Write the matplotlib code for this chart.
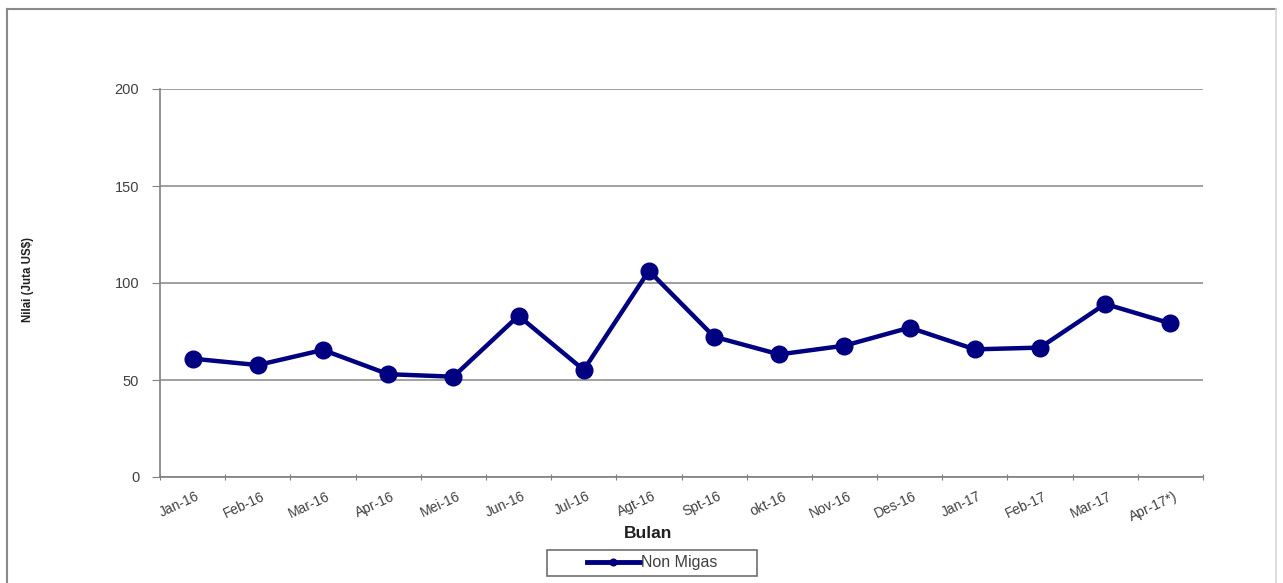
import matplotlib
matplotlib.use("Agg")
import matplotlib.pyplot as plt
import matplotlib.transforms as mtrans
from matplotlib.patches import Rectangle
from matplotlib.lines import Line2D

categories = ["Jan-16", "Feb-16", "Mar-16", "Apr-16", "Mei-16", "Jun-16", "Jul-16", "Agt-16",
              "Spt-16", "okt-16", "Nov-16", "Des-16", "Jan-17", "Feb-17", "Mar-17", "Apr-17*)"]
non_migas = [61.0, 57.7, 65.5, 53.0, 51.7, 83.1, 55.2, 106.3,
             72.3, 63.2, 67.7, 77.0, 65.8, 66.7, 89.2, 79.2]
y_ticks = [0, 50, 100, 150, 200]

plt.rcParams['font.family'] = ['Liberation Sans', 'DejaVu Sans']

W, H = 1283, 583
fig = plt.figure(figsize=(W / 100, H / 100), dpi=100)

def fx(px):
    return px / W

def fy(py):
    return 1 - py / H

# outer frame
fig.add_artist(Line2D([fx(7), fx(7)], [0, fy(9)], transform=fig.transFigure,
                      color='#8a8a8a', linewidth=1.5))
fig.add_artist(Line2D([fx(7), fx(1276)], [fy(9), fy(9)], transform=fig.transFigure,
                      color='#8a8a8a', linewidth=1.5))
fig.add_artist(Line2D([fx(1276), fx(1276)], [0, fy(9)], transform=fig.transFigure,
                      color='#d8d8d8', linewidth=1.2))

ax = fig.add_axes([fx(160), fy(477), (1203 - 160) / W, (477 - 89) / H])
n = len(categories)
x = list(range(n))
ax.plot(x, non_migas, color='#000080', linewidth=3.2, marker='o', markersize=12,
        markerfacecolor='#000080', markeredgecolor='#000080', label='Non Migas', zorder=3)

ax.set_xlim(-0.5, n - 0.5)
ax.set_ylim(0, 200)
ax.set_yticks(y_ticks)
ax.set_yticklabels([str(v) for v in y_ticks], fontsize=10.5, color='#404040')
ax.yaxis.grid(True, color='#909090', linewidth=1.2)
ax.set_axisbelow(True)

ax.set_xticks([i - 0.5 for i in range(n + 1)])
ax.set_xticklabels([])
ax.set_xticks(x, minor=True)
ax.set_xticklabels(categories, minor=True, rotation=25, ha='right', rotation_mode='anchor',
                   fontsize=10, color='#404040')
ax.tick_params(axis='x', which='minor', length=0, pad=9)
ax.tick_params(axis='x', which='major', length=5, direction='inout', color='#808080')
ax.tick_params(axis='y', length=6, direction='out', color='#808080', pad=9)
offset = mtrans.ScaledTranslation(3 / 100, 0, fig.dpi_scale_trans)
for lab in ax.get_xticklabels(minor=True):
    lab.set_transform(lab.get_transform() + offset)

for s in ['top', 'right']:
    ax.spines[s].set_visible(False)
for s in ['left', 'bottom']:
    ax.spines[s].set_color('#808080')
    ax.spines[s].set_linewidth(1.2)

fig.text(fx(648), fy(534), 'Bulan', fontsize=12.5, fontweight='bold', color='#202020',
         ha='center', va='center')
fig.text(fx(28), fy(280), 'Nilai (Juta US$)', rotation=90, fontsize=8.3,
         fontweight='bold', color='#202020', ha='center', va='center')

# legend box
fig.add_artist(Rectangle((fx(547), fy(576)), (757 - 547) / W, (576 - 550) / H,
                         transform=fig.transFigure, fill=False,
                         edgecolor='#707070', linewidth=1.2))
leg = ax.legend(loc='center', bbox_to_anchor=(fx(652), fy(563)),
                bbox_transform=fig.transFigure, frameon=False,
                fontsize=11.5, handlelength=3.3, handletextpad=0.05, markerscale=0.4,
                borderpad=0.0, borderaxespad=0)
for t in leg.get_texts():
    t.set_color('#404040')
for line in leg.get_lines():
    line.set_linewidth(3.5)

fig.savefig('out.png', dpi=100)
